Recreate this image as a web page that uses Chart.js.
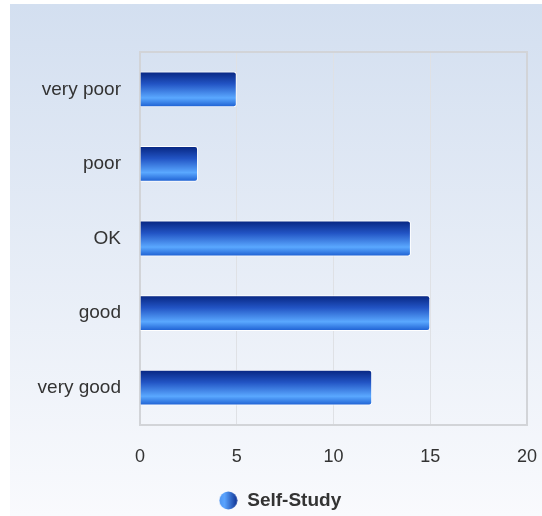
<!DOCTYPE html>
<html>
<head>
<meta charset="utf-8">
<script src="https://cdn.jsdelivr.net/npm/chart.js@4.4.1/dist/chart.umd.min.js"></script>
<style>
  html, body { margin: 0; padding: 0; background: #ffffff; }
  canvas { display: block; }
</style>
</head>
<body>
<canvas id="chart" width="542" height="516"></canvas>
<script>
const categories = ["very poor", "poor", "OK", "good", "very good"];
const selfStudy = [5, 3, 14, 15, 12];
const xTicks = [0, 5, 10, 15, 20];
const seriesName = "Self-Study";

const BAR_PCT = 0.48;

// little gradient ball for the legend
const legendDot = document.createElement("canvas");
legendDot.width = 19;
legendDot.height = 19;
(() => {
  const c = legendDot.getContext("2d");
  const g = c.createLinearGradient(0, 0, 19, 0);
  g.addColorStop(0, "#4f95f0");
  g.addColorStop(0.3, "#5aa4ff");
  g.addColorStop(1, "#0b2c8e");
  c.fillStyle = g;
  c.beginPath();
  c.arc(9.5, 9.5, 9, 0, Math.PI * 2);
  c.fill();
})();

// vertical gradient for each bar, worked out from the y scale
function barFill(context) {
  const chart = context.chart;
  const a = chart.chartArea;
  if (!a || context.dataIndex === undefined) return "#2457c8";
  const yScale = chart.scales.y;
  const mid = yScale.getPixelForValue(context.dataIndex);
  const half = ((a.bottom - a.top) / categories.length) * BAR_PCT / 2;
  const g = chart.ctx.createLinearGradient(0, mid - half, 0, mid + half);
  g.addColorStop(0, "#06247f");
  g.addColorStop(0.35, "#2254c4");
  g.addColorStop(0.74, "#5aa8ff");
  g.addColorStop(1, "#1a5cd0");
  return g;
}

const backdrop = {
  id: "backdrop",
  beforeDraw(chart) {
    const { ctx, width, height } = chart;
    const g = ctx.createLinearGradient(0, 4, 0, height);
    g.addColorStop(0, "#d3dff0");
    g.addColorStop(1, "#f9fafd");
    ctx.save();
    ctx.fillStyle = g;
    ctx.fillRect(10, 4, width - 10, height - 4);
    ctx.restore();
  },
  beforeDatasetsDraw(chart) {
    const { ctx, chartArea: a } = chart;
    ctx.save();
    ctx.strokeStyle = "#d2d4d8";
    ctx.lineWidth = 2;
    ctx.strokeRect(a.left, a.top, a.right - a.left, a.bottom - a.top);
    ctx.restore();
  },
};

new Chart(document.getElementById("chart"), {
  type: "bar",
  data: {
    labels: categories,
    datasets: [{
      label: seriesName,
      data: selfStudy,
      backgroundColor: barFill,
      borderColor: "#ffffff",
      borderWidth: 1,
      borderRadius: 3,
      barPercentage: BAR_PCT,
      categoryPercentage: 1,
    }],
  },
  options: {
    indexAxis: "y",
    responsive: false,
    animation: false,
    layout: { padding: { top: 52, right: 0, left: 18, bottom: -4 } },
    scales: {
      x: {
        min: xTicks[0],
        max: xTicks[xTicks.length - 1],
        afterBuildTicks: (s) => { s.ticks = xTicks.map((v) => ({ value: v })); },
        afterFit: (s) => {
          s.height = 63;
          s.paddingLeft = 0;
          s.paddingRight = 15;
        },
        border: { display: false },
        grid: {
          drawTicks: false,
          color: (c) => (c.tick && (c.tick.value === 0 || c.tick.value === 20) ? "rgba(0,0,0,0)" : "#dfe1e5"),
          lineWidth: 1,
        },
        ticks: {
          padding: 21,
          color: "#333333",
          font: { family: "Arial, 'Liberation Sans', sans-serif", size: 18 },
        },
      },
      y: {
        afterFit: (s) => { s.width = 122; },
        border: { display: false },
        grid: { display: false, drawTicks: false },
        ticks: {
          padding: 19,
          color: "#333333",
          font: { family: "Arial, 'Liberation Sans', sans-serif", size: 19 },
        },
      },
    },
    plugins: {
      legend: {
        position: "bottom",
        labels: {
          usePointStyle: true,
          pointStyle: legendDot,
          color: "#333333",
          padding: 3,
          font: { family: "Arial, 'Liberation Sans', sans-serif", size: 19, weight: "bold" },
        },
      },
      tooltip: { enabled: false },
    },
  },
  plugins: [backdrop],
});
</script>
</body>
</html>
